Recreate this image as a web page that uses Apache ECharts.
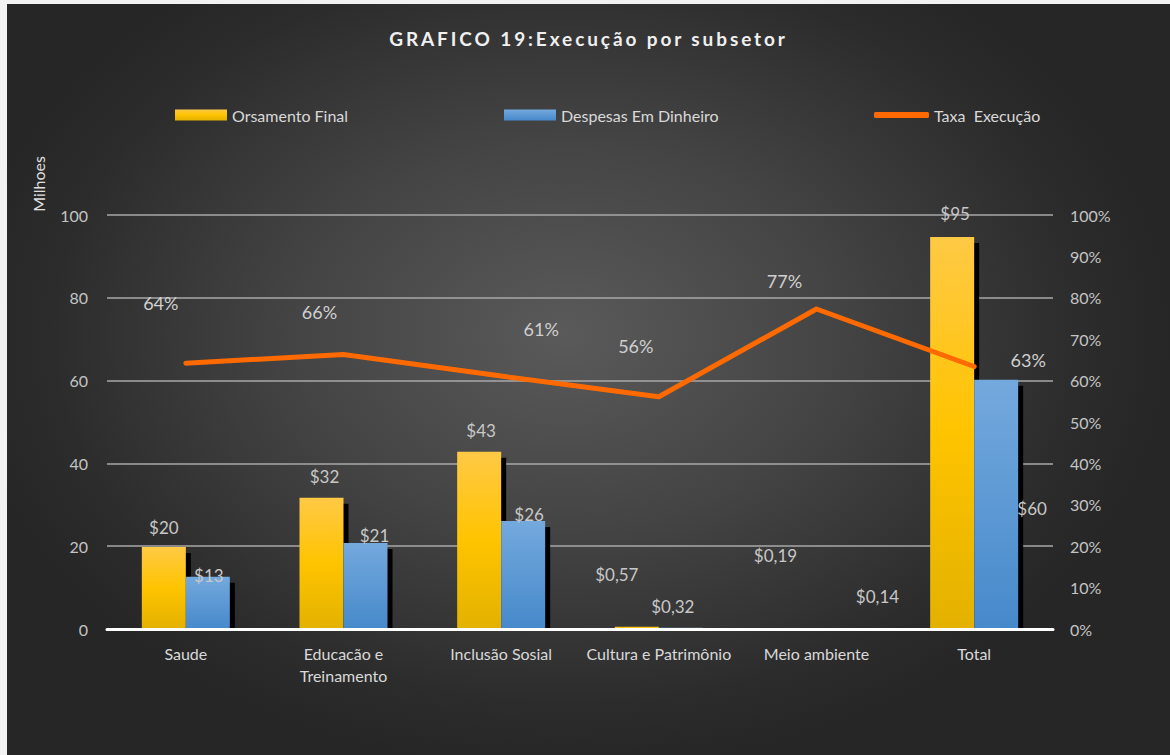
<!DOCTYPE html>
<html>
<head>
<meta charset="utf-8">
<script src="https://cdn.jsdelivr.net/npm/echarts@6/dist/echarts.min.js"></script>
<style>
  html, body { margin: 0; padding: 0; background: #f2f2f2; width: 1170px; height: 755px; overflow: hidden; }
  #chart {
    position: absolute; left: 7px; top: 4px; width: 1163px; height: 751px;
    background: radial-gradient(ellipse 52% 58% at 48% 44%, #5a5a5a 0%, #444 45%, #2c2c2c 85%, #262626 100%);
  }
</style>
</head>
<body>
<div id="chart"></div>
<script>
// ---- data ----
const titleText = 'GRAFICO 19:Execução por subsetor';
const categories = ['Saude', 'Educacão e\nTreinamento', 'Inclusão Sosial', 'Cultura e Patrimônio', 'Meio ambiente', 'Total'];
const seriesNames = ['Orsamento Final', 'Despesas Em Dinheiro', 'Taxa  Execução'];
const orcamentoFinal = [19.8, 31.7, 42.8, 0.57, 0.19, 94.7];
const despesasDinheiro = [12.6, 20.8, 26.1, 0.32, 0.14, 60.2];
const taxaExecucao = [0.642, 0.663, 0.611, 0.561, 0.773, 0.634];
const leftAxisName = 'Milhoes';

// ---- label placement (style, not data) ----
const orcOffsets = [[0, -6], [3, -8], [2, -8], [-20, -39], [-19, -59], [3, -10]];
const despOffsets = [[1, 12], [9, 6], [6, 7], [-8, -8], [39, -18], [36, 142]];
const taxaOffsets = [[-25, -46], [-24, -28], [40, -33], [-23, -36], [-32, -13], [54, 8]];

const FONT = 'Lato';
const BAR_W = 44;
const money = v => '$' + (v >= 1 ? String(Math.round(v)) : v.toFixed(2).replace('.', ','));

const chart = echarts.init(document.getElementById('chart'), null, { renderer: 'svg' });

const yellowGrad = new echarts.graphic.LinearGradient(0, 0, 0, 1, [
  { offset: 0, color: '#ffc945' }, { offset: 0.5, color: '#ffc400' }, { offset: 1, color: '#e3b100' }
]);
const blueGrad = new echarts.graphic.LinearGradient(0, 0, 0, 1, [
  { offset: 0, color: '#74a9dd' }, { offset: 1, color: '#4689cb' }
]);

const legendBase = {
  top: 98, itemWidth: 52, itemHeight: 11, itemGap: 5,
  textStyle: { color: '#d9d9d9', fontSize: 16, fontFamily: FONT }
};

// drop shadows behind the bars, cut at the axis
function renderShadows(params, api) {
  const idx = api.value(0);
  const basePt = api.coord([idx, 0]);
  const children = [];
  [[api.value(1), -BAR_W], [api.value(2), 0]].forEach(([v, dx]) => {
    const top = api.coord([idx, v])[1] + 6;
    if (top < basePt[1]) {
      children.push({
        type: 'rect',
        shape: { x: basePt[0] + dx + 5, y: top, width: BAR_W, height: basePt[1] - top },
        style: { fill: '#000' }
      });
    }
  });
  return { type: 'group', children };
}

const option = {
  animation: false,
  backgroundColor: 'transparent',
  title: {
    text: titleText, left: 'center', top: 20,
    textStyle: { color: '#f0f0f0', fontSize: 19, fontWeight: 'bold', fontFamily: FONT }
  },
  legend: [
    Object.assign({}, legendBase, { left: 163, data: [{ name: seriesNames[0], icon: 'rect' }] }),
    Object.assign({}, legendBase, { left: 492, data: [{ name: seriesNames[1], icon: 'rect' }] }),
    Object.assign({}, legendBase, { left: 862, itemWidth: 55, itemHeight: 6, data: [{ name: seriesNames[2], icon: 'roundRect' }] })
  ],
  graphic: [{
    type: 'text', x: 31, y: 180, rotation: Math.PI / 2,
    style: { text: leftAxisName, fill: '#e0e0e0', font: '16px ' + FONT, align: 'center', verticalAlign: 'middle' }
  }],
  grid: { left: 100, right: 117, top: 211, bottom: 126 },
  xAxis: {
    type: 'category', data: categories, z: 10,
    axisLine: { lineStyle: { color: '#ffffff', width: 3 } },
    axisTick: { show: false },
    axisLabel: { color: '#d9d9d9', fontSize: 16, fontFamily: FONT, margin: 13, lineHeight: 22, interval: 0 }
  },
  yAxis: [{
    type: 'value', min: 0, max: 100, interval: 20,
    axisLine: { show: false }, axisTick: { show: false },
    axisLabel: { color: '#c4c4c4', fontSize: 16, fontFamily: FONT, margin: 19 },
    splitLine: { lineStyle: { color: '#a8a8a8', width: 1.5 } }
  }, {
    type: 'value', min: 0, max: 1, interval: 0.1,
    axisLine: { show: false }, axisTick: { show: false }, splitLine: { show: false },
    axisLabel: { color: '#c4c4c4', fontSize: 16, fontFamily: FONT, margin: 17, formatter: v => Math.round(v * 100) + '%' }
  }],
  series: [{
    type: 'custom', silent: true, renderItem: renderShadows,
    encode: { x: 0, y: [1, 2] },
    data: categories.map((c, i) => [i, orcamentoFinal[i], despesasDinheiro[i]])
  }, {
    name: seriesNames[0], type: 'bar', barWidth: BAR_W, barGap: '0%',
    itemStyle: { color: yellowGrad },
    label: { show: true, position: 'top', distance: 5, color: '#c8c8c8', fontSize: 17, fontFamily: FONT, formatter: p => money(p.value) },
    data: orcamentoFinal.map((v, i) => ({ value: v, label: { offset: orcOffsets[i] } }))
  }, {
    name: seriesNames[1], type: 'bar', barWidth: BAR_W, barGap: '0%',
    itemStyle: { color: blueGrad },
    label: { show: true, position: 'top', distance: 5, color: '#c8c8c8', fontSize: 17, fontFamily: FONT, formatter: p => money(p.value) },
    data: despesasDinheiro.map((v, i) => ({ value: v, label: { offset: despOffsets[i] } }))
  }, {
    name: seriesNames[2], type: 'line', yAxisIndex: 1, z: 5,
    symbol: 'circle', symbolSize: 1, showSymbol: true,
    itemStyle: { color: '#ff6a00' },
    lineStyle: { color: '#ff6a00', width: 5, cap: 'round', join: 'round' },
    label: { show: true, position: 'top', distance: 5, color: '#d0d0d0', fontSize: 18, fontFamily: FONT, formatter: p => Math.round(p.value * 100) + '%' },
    data: taxaExecucao.map((v, i) => ({ value: v, label: { offset: taxaOffsets[i] } }))
  }]
};

chart.setOption(option);

function spaceTitle() {
  const texts = document.querySelectorAll('#chart svg text');
  texts.forEach(t => {
    if (t.textContent === titleText) t.setAttribute('letter-spacing', '2.9');
  });
}
spaceTitle();
chart.on('finished', spaceTitle);
</script>
</body>
</html>
